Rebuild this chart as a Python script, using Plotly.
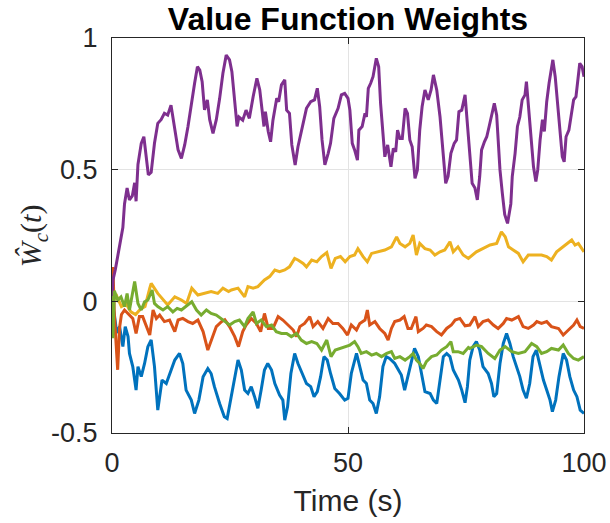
import plotly.graph_objects as go

# Critic weight estimates W_c(t), sampled as (time [s], weight) pairs
w1_blue = [
    (0, 0.0), (0.5, -0.05), (1.0, -0.12), (1.6, -0.096), (2.3, -0.172), (2.8, -0.096),
    (3.4, -0.134), (3.7, -0.198), (4.4, -0.248), (5.1, -0.337), (5.5, -0.248),
    (6.2, -0.286), (6.9, -0.236), (7.6, -0.172), (8.3, -0.147), (9.0, -0.248),
    (9.7, -0.413), (10.6, -0.299), (11.5, -0.312), (12.2, -0.274), (13.3, -0.223),
    (14.3, -0.198), (15.0, -0.236), (15.7, -0.337), (16.8, -0.375), (17.5, -0.426),
    (18.4, -0.375), (19.3, -0.286), (20.3, -0.255), (21.0, -0.274), (21.7, -0.324),
    (22.8, -0.388), (23.8, -0.438), (24.4, -0.445), (25.3, -0.362), (26.0, -0.286),
    (26.7, -0.223), (27.4, -0.261), (28.1, -0.337), (28.8, -0.35), (29.5, -0.324),
    (30.2, -0.362), (30.9, -0.406), (31.6, -0.337), (32.3, -0.261), (33.0, -0.236),
    (33.8, -0.261), (34.5, -0.312), (35.5, -0.356), (36.2, -0.375), (36.6, -0.451),
    (37.2, -0.4), (37.9, -0.274), (38.7, -0.198), (39.4, -0.236), (40.3, -0.274),
    (41.2, -0.312), (42.1, -0.324), (42.8, -0.362), (43.5, -0.343), (44.2, -0.286),
    (44.9, -0.21), (45.6, -0.223), (46.3, -0.274), (47.2, -0.331), (48.2, -0.35),
    (49.3, -0.375), (50.0, -0.368), (50.7, -0.274), (51.8, -0.198), (52.5, -0.255),
    (53.2, -0.299), (53.9, -0.312), (54.6, -0.375), (55.3, -0.388), (56.0, -0.426),
    (56.7, -0.362), (57.4, -0.248), (58.1, -0.21), (58.8, -0.217), (59.9, -0.236),
    (60.6, -0.261), (61.3, -0.28), (62.0, -0.337), (62.7, -0.286), (63.4, -0.236),
    (64.1, -0.179), (64.9, -0.21), (65.6, -0.274), (66.3, -0.343), (67.4, -0.35),
    (68.1, -0.375), (68.8, -0.388), (69.5, -0.299), (70.2, -0.21), (70.9, -0.198),
    (71.6, -0.21), (72.3, -0.261), (73.4, -0.299), (74.1, -0.337), (74.8, -0.385),
    (75.3, -0.324), (75.8, -0.223), (76.5, -0.172), (77.2, -0.153), (77.9, -0.185),
    (78.6, -0.248), (79.7, -0.274), (80.4, -0.312), (80.9, -0.362), (81.5, -0.35),
    (82.2, -0.236), (82.9, -0.16), (83.6, -0.122), (84.3, -0.16), (85.0, -0.21),
    (85.7, -0.248), (86.4, -0.286), (87.1, -0.337), (87.8, -0.368), (88.5, -0.312),
    (89.2, -0.21), (89.9, -0.185), (90.6, -0.236), (91.4, -0.299), (92.1, -0.337),
    (92.8, -0.375), (93.3, -0.419), (94.0, -0.375), (94.7, -0.286), (95.6, -0.198),
    (96.3, -0.223), (97.0, -0.286), (97.8, -0.337), (98.5, -0.362), (99.2, -0.413),
    (100, -0.426),
]

w2_orange = [
    (0, 0.0), (0.2, 0.13), (0.5, -0.05), (0.8, -0.15), (1.2, -0.26), (1.6, -0.1),
    (2.0, -0.05), (2.65, -0.033), (3.7, -0.052), (4.4, -0.065), (5.1, -0.122),
    (5.8, -0.058), (6.5, -0.058), (7.25, -0.09), (8.0, -0.128), (8.7, -0.033),
    (9.4, -0.065), (10.1, -0.052), (11.1, -0.077), (12.2, -0.071), (13.3, -0.115),
    (14.0, -0.071), (15.0, -0.065), (16.1, -0.077), (17.1, -0.084), (18.2, -0.071),
    (19.3, -0.115), (20.3, -0.185), (21.0, -0.147), (22.1, -0.096), (23.2, -0.077),
    (23.9, -0.07), (24.9, -0.096), (26.0, -0.134), (26.8, -0.172), (27.7, -0.115),
    (28.4, -0.09), (29.5, -0.065), (30.6, -0.084), (31.5, -0.115), (32.3, -0.046),
    (33.1, -0.103), (34.1, -0.103), (35.2, -0.058), (36.2, -0.071), (37.3, -0.09),
    (38.4, -0.109), (39.1, -0.134), (39.8, -0.096), (40.8, -0.084), (41.9, -0.058),
    (42.6, -0.096), (43.6, -0.077), (44.7, -0.103), (45.8, -0.065), (46.8, -0.084),
    (47.9, -0.084), (48.9, -0.103), (49.9, -0.128), (50.7, -0.09), (51.8, -0.109),
    (52.5, -0.084), (53.6, -0.071), (54.1, -0.033), (54.6, -0.09), (55.7, -0.077),
    (56.7, -0.103), (57.8, -0.122), (58.5, -0.147), (59.2, -0.103), (59.9, -0.077),
    (61.0, -0.071), (61.9, -0.058), (62.7, -0.103), (63.4, -0.103), (64.4, -0.058),
    (64.9, -0.115), (65.9, -0.103), (66.6, -0.09), (67.7, -0.096), (68.8, -0.115),
    (69.8, -0.128), (70.9, -0.103), (71.9, -0.09), (72.7, -0.071), (73.7, -0.065),
    (74.8, -0.093), (75.8, -0.09), (76.9, -0.058), (77.6, -0.096), (78.6, -0.077),
    (79.7, -0.071), (80.8, -0.09), (81.8, -0.103), (82.9, -0.084), (83.6, -0.065),
    (84.7, -0.071), (86.1, -0.058), (87.1, -0.096), (88.2, -0.103), (89.3, -0.09),
    (90.0, -0.077), (91.0, -0.084), (92.1, -0.077), (93.1, -0.096), (94.6, -0.103),
    (95.6, -0.128), (96.7, -0.109), (97.8, -0.09), (98.5, -0.071), (99.2, -0.096),
    (100, -0.103),
]

w3_yellow = [
    (0, 0.0), (1.0, 0.02), (2.0, -0.02), (3.0, -0.01), (4.0, -0.04), (5.0, -0.05),
    (6.0, -0.03), (7.0, -0.02), (8.0, 0.05), (8.3, 0.068), (9.7, 0.03), (11.8, -0.014),
    (13.3, 0.017), (14.7, 0.005), (15.8, -0.008), (16.9, 0.05), (18.2, 0.024),
    (19.6, 0.03), (21.0, 0.037), (22.4, 0.03), (23.5, 0.05), (24.7, 0.037),
    (25.3, 0.043), (26.7, 0.05), (28.1, 0.017), (28.8, 0.056), (29.9, 0.05),
    (30.9, 0.056), (32.3, 0.081), (33.4, 0.094), (34.5, 0.119), (35.5, 0.113),
    (36.6, 0.119), (37.6, 0.131), (38.7, 0.163), (39.4, 0.157), (40.5, 0.144),
    (41.2, 0.131), (42.3, 0.157), (43.4, 0.15), (44.4, 0.17), (45.5, 0.185),
    (46.4, 0.125), (47.3, 0.163), (48.4, 0.17), (49.4, 0.15), (50.4, 0.17),
    (51.4, 0.176), (52.1, 0.2), (53.2, 0.17), (54.1, 0.15), (55.0, 0.182),
    (56.4, 0.188), (57.8, 0.195), (59.2, 0.207), (60.3, 0.245), (61.0, 0.22),
    (62.1, 0.207), (63.1, 0.22), (63.8, 0.252), (64.5, 0.176), (65.2, 0.22),
    (66.3, 0.2), (67.4, 0.195), (68.4, 0.176), (69.5, 0.188), (70.5, 0.195),
    (71.6, 0.226), (72.3, 0.188), (73.3, 0.207), (74.4, 0.176), (75.5, 0.163),
    (77.2, 0.188), (78.6, 0.2), (80.1, 0.214), (81.5, 0.22), (82.5, 0.264),
    (83.3, 0.245), (84.0, 0.207), (85.0, 0.195), (86.1, 0.182), (87.1, 0.15),
    (88.2, 0.176), (89.6, 0.176), (91.0, 0.176), (92.1, 0.17), (93.1, 0.157),
    (94.2, 0.188), (95.6, 0.207), (97.4, 0.233), (98.1, 0.214), (98.8, 0.22),
    (100, 0.188),
]

w4_purple = [
    (0, 0.0), (0.2, 0.08), (0.7, 0.12), (1.2, 0.17), (1.8, 0.22), (2.3, 0.28),
    (2.65, 0.37), (3.2, 0.43), (3.7, 0.385), (4.3, 0.40), (4.8, 0.45), (5.1, 0.38),
    (5.5, 0.52), (6.2, 0.60), (6.75, 0.625), (7.25, 0.536), (7.7, 0.48), (8.3, 0.49),
    (9.0, 0.60), (9.7, 0.676), (10.4, 0.69), (11.1, 0.714), (11.8, 0.707),
    (12.5, 0.745), (12.9, 0.70), (13.4, 0.65), (14.0, 0.575), (14.7, 0.543),
    (15.4, 0.594), (16.1, 0.664), (16.8, 0.752), (17.5, 0.828), (18.1, 0.891),
    (18.6, 0.878), (19.1, 0.834), (19.6, 0.727), (20.2, 0.765), (20.7, 0.69),
    (21.4, 0.638), (22.1, 0.69), (22.8, 0.77), (23.5, 0.866), (24.2, 0.935),
    (24.9, 0.917), (25.4, 0.872), (25.8, 0.784), (26.5, 0.664), (26.9, 0.70),
    (27.7, 0.688), (28.4, 0.726), (29.1, 0.695), (29.9, 0.777), (30.7, 0.847),
    (31.3, 0.803), (31.8, 0.726), (32.2, 0.664), (32.5, 0.72), (33.1, 0.645),
    (33.6, 0.606), (34.1, 0.688), (34.9, 0.771), (35.3, 0.758), (35.9, 0.822),
    (36.6, 0.841), (37.0, 0.726), (37.6, 0.714), (38.1, 0.594), (38.8, 0.518),
    (39.4, 0.587), (40.3, 0.664), (41.2, 0.733), (42.1, 0.758), (42.9, 0.765),
    (43.5, 0.809), (44.0, 0.739), (44.5, 0.613), (45.1, 0.518), (45.8, 0.562),
    (46.3, 0.60), (47.0, 0.695), (47.9, 0.733), (48.6, 0.784), (49.3, 0.79),
    (50.0, 0.771), (50.4, 0.726), (50.9, 0.60), (51.4, 0.575), (52.0, 0.536),
    (52.3, 0.65), (53.0, 0.664), (53.6, 0.714), (53.9, 0.70), (54.3, 0.809),
    (54.8, 0.828), (55.3, 0.853), (56.0, 0.923), (56.5, 0.891), (56.9, 0.752),
    (57.4, 0.645), (57.8, 0.549), (58.4, 0.594), (59.1, 0.511), (59.6, 0.581),
    (60.1, 0.568), (60.5, 0.65), (61.0, 0.618), (61.5, 0.618), (62.1, 0.733),
    (62.6, 0.714), (63.1, 0.613), (63.6, 0.587), (64.2, 0.467), (64.7, 0.499),
    (65.2, 0.65), (65.7, 0.739), (66.3, 0.803), (67.0, 0.765), (67.6, 0.803),
    (68.1, 0.86), (68.8, 0.803), (69.5, 0.70), (70.2, 0.549), (70.7, 0.448),
    (71.2, 0.474), (71.8, 0.562), (72.5, 0.60), (73.0, 0.613), (73.5, 0.72),
    (74.1, 0.726), (74.8, 0.784), (75.3, 0.664), (75.8, 0.549), (76.3, 0.448),
    (76.9, 0.43), (77.4, 0.385), (77.9, 0.474), (78.3, 0.575), (78.9, 0.606),
    (79.4, 0.625), (79.9, 0.664), (80.4, 0.707), (81.0, 0.752), (81.5, 0.707),
    (81.8, 0.613), (82.2, 0.499), (82.7, 0.41), (83.2, 0.33), (83.8, 0.296),
    (84.5, 0.37), (84.8, 0.474), (85.4, 0.562), (85.9, 0.664), (86.4, 0.70),
    (86.9, 0.765), (87.5, 0.784), (87.8, 0.834), (88.2, 0.745), (88.8, 0.60),
    (89.3, 0.511), (89.8, 0.455), (90.2, 0.499), (90.7, 0.613), (91.2, 0.69),
    (91.6, 0.645), (92.1, 0.758), (92.6, 0.828), (93.0, 0.878), (93.4, 0.917),
    (93.9, 0.853), (94.4, 0.752), (94.9, 0.676), (95.4, 0.549), (95.8, 0.53),
    (96.2, 0.625), (96.8, 0.65), (97.3, 0.70), (97.8, 0.765), (98.3, 0.777),
    (98.7, 0.841), (99.1, 0.904), (99.6, 0.891), (100, 0.853),
]

w5_green = [
    (0, 0.02), (0.2, -0.14), (0.5, 0.04), (1.2, 0.005), (1.9, 0.017), (2.65, -0.02),
    (3.2, 0.03), (3.7, -0.033), (4.8, 0.075), (5.5, -0.008), (6.2, -0.033),
    (6.9, -0.002), (7.6, 0.005), (8.5, 0.043), (9.0, -0.008), (9.7, -0.02),
    (10.8, -0.033), (11.8, -0.02), (12.9, -0.04), (13.8, -0.027), (14.7, -0.033),
    (15.7, -0.02), (16.9, -0.002), (17.9, -0.033), (18.9, -0.052), (20.0, -0.033),
    (21.0, -0.046), (22.1, -0.052), (23.2, -0.065), (24.2, -0.08), (24.9, -0.09),
    (26.0, -0.077), (27.0, -0.071), (28.1, -0.096), (28.8, -0.065), (29.9, -0.04),
    (30.6, -0.084), (31.6, -0.071), (32.7, -0.096), (33.8, -0.09), (34.8, -0.115),
    (35.9, -0.122), (37.0, -0.122), (38.0, -0.134), (39.1, -0.122), (40.1, -0.147),
    (41.2, -0.16), (42.3, -0.153), (43.4, -0.16), (44.4, -0.185), (45.5, -0.147),
    (46.4, -0.21), (47.3, -0.185), (48.4, -0.179), (49.4, -0.172), (50.4, -0.166),
    (51.4, -0.153), (52.1, -0.172), (52.8, -0.198), (53.9, -0.191), (55.0, -0.204),
    (56.0, -0.198), (57.1, -0.21), (58.2, -0.198), (59.2, -0.191), (59.9, -0.217),
    (61.0, -0.21), (62.1, -0.223), (63.1, -0.21), (63.8, -0.198), (64.5, -0.223),
    (65.2, -0.236), (65.9, -0.255), (66.6, -0.229), (67.7, -0.21), (68.8, -0.204),
    (69.8, -0.185), (70.9, -0.172), (71.8, -0.153), (72.3, -0.191), (73.3, -0.191),
    (74.4, -0.198), (75.5, -0.175), (75.8, -0.179), (77.2, -0.166), (78.3, -0.172),
    (79.7, -0.198), (81.1, -0.217), (82.2, -0.185), (83.3, -0.172), (84.7, -0.191),
    (86.1, -0.198), (87.5, -0.191), (88.9, -0.16), (90.0, -0.172), (91.0, -0.198),
    (92.1, -0.191), (93.1, -0.179), (94.6, -0.185), (95.6, -0.166), (96.7, -0.198),
    (97.8, -0.217), (98.8, -0.223), (100, -0.21),
]

# MATLAB default line colour order
series = [
    (w1_blue, "#0072BD"),
    (w2_orange, "#D95319"),
    (w3_yellow, "#EDB120"),
    (w4_purple, "#7E2F8E"),
    (w5_green, "#77AC30"),
]

x_ticks = [0, 50, 100]
y_ticks = [-0.5, 0, 0.5, 1]
y_tick_text = ["-0.5", "0", "0.5", "1"]

fig = go.Figure()
for i, (pts, color) in enumerate(series, start=1):
    fig.add_trace(go.Scatter(
        x=[p[0] for p in pts],
        y=[p[1] for p in pts],
        mode="lines",
        line=dict(color=color, width=3),
        name=f"W{i}",
        showlegend=False,
    ))

axis_common = dict(
    automargin=False,
    showline=True,
    linecolor="#262626",
    linewidth=1,
    mirror="ticks",
    ticks="inside",
    ticklen=6,
    tickwidth=1,
    tickcolor="#262626",
    showgrid=True,
    gridcolor="#e3e3e3",
    gridwidth=1,
    zeroline=False,
    tickfont=dict(family="Liberation Sans, Arial, sans-serif", size=27, color="#262626"),
)

fig.update_xaxes(
    range=[0, 100],
    tickvals=x_ticks,
    ticktext=[str(v) for v in x_ticks],
    ticklabelstandoff=6,
    title=dict(text="Time (s)", font=dict(family="Liberation Sans, Arial, sans-serif",
                                          size=30, color="#262626"), standoff=12),
    **axis_common,
)
fig.update_yaxes(
    range=[-0.5, 1],
    tickvals=y_ticks,
    ticktext=y_tick_text,
    ticklabelstandoff=8,
    **axis_common,
)

fig.add_annotation(
    text="<i>Ŵ</i><sub><i>c</i></sub>(<i>t</i>)",
    xref="paper", yref="paper",
    x=-0.168, y=0.5,
    xanchor="center", yanchor="middle",
    textangle=-90,
    showarrow=False,
    font=dict(family="Liberation Serif, DejaVu Serif, serif", size=30, color="#262626"),
)

fig.update_layout(
    width=610,
    height=523,
    margin=dict(l=112, r=26, t=38, b=90),
    paper_bgcolor="white",
    plot_bgcolor="white",
    title=dict(
        text="<b>Value Function Weights</b>",
        x=348 / 610, xref="container", xanchor="center",
        y=1 - 19 / 523, yref="container", yanchor="middle",
        font=dict(family="Liberation Sans, Arial, sans-serif", size=32, color="black"),
    ),
)

fig.write_html("out.html")
